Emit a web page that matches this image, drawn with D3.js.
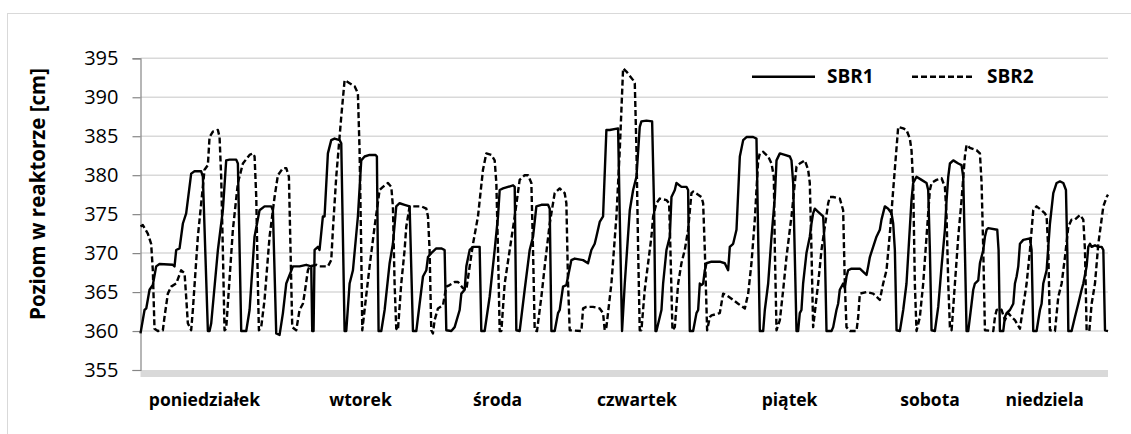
<!DOCTYPE html>
<html>
<head>
<meta charset="utf-8">
<script src="https://cdn.jsdelivr.net/npm/d3@7"></script>
<style>
  body { margin: 0; background: #fff; }
  text { font-family: "Open Sans", sans-serif; fill: #000; }
</style>
</head>
<body>
<div id="chart"></div>
<script>
// time in hours from Monday 00:00, level in cm
var sbr1Hours = [0,0.7,1.0,1.57,2.14,2.72,3.3,5.62,5.91,6.2,6.78,7.36,7.93,8.8,9.38,10.54,10.83,11.7,11.99,12.28,13.44,14.3,14.88,15.46,16.62,16.91,17.49,18.36,18.94,19.8,20.67,21.54,22.7,22.99,23.57,24.15,24.73,25.31,26.47,27.62,28.78,29.65,29.82,30.05,30.23,30.81,31.09,31.67,31.96,32.54,33.12,33.7,34.57,34.86,35.44,35.73,36.31,36.89,37.75,38.33,38.91,39.78,40.82,41.05,41.34,41.81,42.39,43.26,43.83,44.41,44.99,45.86,46.73,47.31,47.89,48.47,49.05,49.63,49.92,50.49,51.36,52.23,52.81,53.1,53.97,54.55,55.42,55.71,56.29,56.58,57.16,57.74,58.89,59.18,59.76,60.63,61.5,62.08,62.37,62.95,64.69,64.98,65.26,65.84,66.71,67.58,68.16,68.74,69.61,70.77,71.06,71.35,71.92,72.5,72.79,73.37,73.95,74.24,74.82,75.4,76.85,77.71,78.29,78.87,79.16,79.74,80.32,80.9,81.48,82.93,83.22,83.62,84.09,84.96,85.54,86.12,86.69,86.98,87.85,88.84,89.19,89.42,89.59,90.17,90.46,90.75,91.33,91.91,92.2,92.78,93.06,93.93,94.8,95.09,95.38,95.96,96.54,96.83,97.12,97.41,97.7,97.99,98.28,99.15,100.59,101.46,102.04,102.33,102.91,103.2,103.49,104.07,104.65,105.23,106.38,106.96,107.54,108.12,108.41,108.99,109.57,110.15,110.44,111.02,111.88,112.75,113.04,113.33,113.91,114.19,114.48,114.77,115.06,115.64,116.22,116.51,116.8,117.09,117.67,118.25,118.54,118.83,119.12,119.99,120.28,120.85,121.14,121.43,122.01,122.3,122.59,122.88,123.46,124.91,125.78,126.07,126.36,126.65,127.22,127.8,128.38,128.67,129.25,129.83,130.41,130.7,130.99,131.28,131.86,132.44,133.01,133.88,134.17,134.75,135.62,136.49,136.78,137.07,137.36,137.94,138.52,139.1,139.68,139.97,140.26,140.55,141.13,142.0,142.57,142.86,143.15,143.44,143.73,144.31,144.6,144.89,145.47,145.76,146.34,146.63,146.92,147.21,148.77,149.0,149.23,149.81,150.1,150.39,150.97,151.55,151.84,152.13,152.42,152.71,153.29,154.45,154.73,155.02,155.6,156.18,156.47,156.76,157.34,157.92,158.5,159.08,159.66,160.24,160.7,160.93,161.11,161.68,162.26,162.84,163.42,163.71,164.29,164.58,164.87,165.16,165.74,166.32,166.9,167.19,167.48,168];
var sbr1Level = [359.7,362.7,362.9,365.3,365.9,368.3,368.6,368.5,368.3,370.4,370.6,373.8,375.1,380.2,380.5,380.5,379.8,360,360,361,370.4,375.5,381.9,382,382,381.5,360,360,362.7,372.1,375.5,376,376,375.5,359.7,359.5,362.3,366.1,368.3,368.3,368.5,368.3,360,360,370.4,370.8,370.4,374.7,374.7,382.8,384.5,384.7,384.5,384.1,360,360,366.1,367.8,374.7,381.9,382.4,382.6,382.6,382.4,360,360,362.7,368.7,371.2,376,376.4,376.2,376,360,360,363.5,367,367.8,369.5,370,370.6,370.6,370.4,360.1,360,360.5,362.7,364.8,365.3,368.3,370.4,370.8,370.8,360,360,364.4,370.4,374.7,378.1,378.3,378.7,378.5,360.1,360,365.3,370.4,372.1,376,376.2,376.2,375.7,360,360,362.3,362.7,365.7,365.9,367,369.1,369.3,369.1,368.7,370.4,371.2,372.1,374,374.7,385.8,385.8,386,374.7,360,366.1,375.5,378.1,379.8,386.2,386.9,387,386.9,375.5,360,360,361.8,362.7,366.1,370.4,372.1,377.2,378.1,379,378.5,378.5,378.1,360,360,362.3,362.7,366.1,365.9,366.1,367.8,368.7,368.9,368.9,368.7,367.8,370.8,371.2,372.1,373,382.4,384.5,384.9,384.9,384.7,360,360,362.7,366.1,372.1,377.2,381.9,382.8,382.6,382.4,381.9,379,360,360,362.3,362.7,366.1,370,372.1,373.8,375.1,375.7,375.3,374.9,374.7,370.4,360,360,360.5,362.7,363.5,365.3,366.1,365.5,367,367.8,368,368,367.4,367.2,368.3,369.5,370.8,372.1,373,374.3,376,375.7,375.1,373.8,370.4,360.1,360,362.7,366.1,376.8,379,379.8,379.4,379,378.1,370.4,360.1,360,363.1,368.3,373,376.8,379.8,381.5,381.9,381.5,381.3,379.8,370.4,360,360,363.5,365.3,366.1,366.5,368.7,370.4,372.1,373,373.2,373,370.4,360,360,361.8,362.3,362.7,363.5,366.1,367,368.3,371.2,371.7,371.9,370.4,360,360,362.7,363.5,366.1,367.8,373.8,377.7,379,379.2,379,378.1,370.4,360,360,361.8,363.5,365.3,366.1,368.3,370.8,371.2,370.8,371,370.8,370.8,370.4,360.1,360];

var sbr2Hours = [0,0.41,1.27,1.85,2.14,2.43,3.01,3.88,4.17,4.75,5.33,6.2,7.07,7.65,7.93,8.22,8.8,9.09,9.96,10.54,11.12,11.7,11.99,12.57,13.44,13.73,14.01,14.3,14.59,14.88,15.17,16.04,16.91,17.78,18.94,19.52,19.81,20.1,20.38,20.56,20.96,21.54,22.41,23.28,23.86,24.73,25.31,25.77,26.0,26.35,27.04,27.62,28.2,28.49,29.07,29.36,30.52,31.09,32.54,33.12,33.41,33.99,34.86,35.44,36.31,37.18,37.75,38.04,38.33,38.51,38.91,39.78,40.65,41.52,42.1,42.97,43.55,43.83,44.12,44.41,44.7,45.28,45.86,46.15,46.73,47.6,48.76,49.63,49.92,50.2,50.49,50.78,51.07,51.65,52.52,53.1,53.68,54.55,55.13,56.0,56.58,57.16,57.74,58.6,59.47,60.05,60.92,61.5,61.79,62.08,62.37,62.66,63.24,64.11,64.98,65.84,66.71,67.3,67.87,68.16,68.45,68.85,69.61,70.19,71.06,71.92,72.79,73.66,73.95,74.24,74.53,76.56,76.85,77.43,78.58,79.74,80.32,80.61,80.9,81.77,82.64,83.22,83.8,84.38,85.54,85.83,86.12,86.41,86.69,86.98,87.56,88.14,88.72,89.01,89.59,90.17,91.33,91.79,92.02,92.37,92.78,93.36,93.93,94.51,95.09,95.67,95.96,96.83,97.41,97.7,97.99,98.39,98.86,99.15,100.59,101.17,101.75,102.91,103.78,104.94,105.52,106.09,106.67,107.25,107.54,108.12,108.99,109.57,109.97,110.15,110.44,111.02,111.6,112.17,112.75,113.04,113.62,113.91,114.48,115.35,115.93,116.22,116.51,116.8,117.67,118.25,118.83,119.41,119.7,120.28,121.43,122.01,122.3,122.59,123.17,124.33,124.62,124.91,126.07,127.22,128.38,128.96,129.54,130.12,130.7,131.57,132.44,133.01,133.59,133.88,134.17,134.46,134.75,135.33,135.91,136.49,137.07,137.36,138.23,139.1,139.68,139.97,140.26,140.55,140.84,141.42,142.0,142.57,143.15,143.44,144.02,145.18,145.76,146.05,146.34,146.63,148.08,148.37,148.66,149.23,149.52,150.1,150.68,151.26,151.84,152.71,153.0,153.87,154.45,155.02,155.6,156.47,157.05,157.34,157.63,157.92,158.79,159.37,159.95,160.53,161.11,161.68,162.26,163.13,163.71,164.0,164.29,164.75,165.16,165.74,166.32,167.19,167.77,168];
var sbr2Level = [373.4,373.6,372.5,371.2,367.8,360.3,360,360.1,361.8,364.8,365.7,366.1,367.8,367.4,364.4,361,360.1,362.7,372.1,376.4,380.7,381.3,384.9,385.6,385.8,384.9,379.8,370.4,360.1,360.3,363.5,373,379,381.5,382.6,382.8,382.4,377.2,366.1,360.1,360.5,364,372.1,377.2,380,380.9,380.9,379.8,372.1,360.5,360.1,362.7,363.5,364.8,367.8,368.3,368.5,368.3,368.3,369.1,373,379.8,387.5,392.2,391.8,391.4,390.5,383.2,370.4,360.1,362.7,368.3,373.4,378.1,378.5,379,378.5,376,366.1,360.3,360.1,366.1,370.4,373.4,376,376,376,375.7,374.7,370.4,360.1,359.7,361.4,362.9,363.3,365.7,365.9,366.3,366.3,365.5,365.3,368.3,371.2,374.7,380.7,382.8,382.6,381.9,379,370.4,360,360,366.1,370.4,374.7,379.4,380,380,379,370.4,360.1,360,364.4,368.3,373.8,377.7,378.3,377.7,376.4,366.1,360.1,360,362.9,363.1,363.1,362.9,362.3,360.1,360.5,366.1,374.7,383.2,393.7,393.3,392.2,391.8,383.2,370.4,360.1,360.1,365.3,368.7,372.1,374.7,376.4,377,376.8,376.4,370.4,360.1,360.5,366.1,368.7,370.4,373,377.7,377.9,377.5,377.2,376.4,370.4,360.1,361.8,362,362.3,364.8,364.6,364,363.5,362.9,364.8,368.7,374.3,381.9,382.8,383,382.4,381.5,379.8,370.4,360.1,361.4,365.3,369.5,373,374.7,379,381.1,381.5,381.9,380.7,379,370.4,360.5,366.1,370.4,373.4,376.4,377.2,377.2,377,375.5,366.1,360.5,360,360,361.8,364.8,365,364.8,364,366.1,367.8,372.5,378.1,386.2,386,385.8,384.7,383.2,379,366.1,360,361.8,366.1,372.1,378.1,379,379.4,379.6,378.5,374.7,366.1,360.5,360.1,366.1,372.1,376.8,382.4,383.9,383.5,383.2,382.8,379,370.4,360.1,360,361.8,362.7,362.9,362.7,361.4,362.3,361.8,361.4,360.3,361.8,366.1,370.4,375.5,376,375.5,375.1,374.7,370.4,360.1,360,364.4,366.1,369.5,373.4,374.3,374.3,374.9,374.3,370.4,360.1,360,363.5,366.1,371.2,376,377.2,377.5];

var yTicks = [355, 360, 365, 370, 375, 380, 385, 390, 395];
var dayNames = ["poniedziałek", "wtorek", "środa", "czwartek", "piątek", "sobota", "niedziela"];
var dayHours = [11.1, 38.2, 62.0, 86.2, 112.7, 137.1, 157.0];
var seriesNames = ["SBR1", "SBR2"];

var W = 1131, H = 434;
var plotLeft = 140.5, plotRight = 1108, plotTop = 58.3, plotBottom = 370;

var svg = d3.select("#chart").append("svg")
  .attr("width", W)
  .attr("height", H);

svg.append("rect")
  .attr("width", W).attr("height", H)
  .attr("fill", "#fff");

// outer frame (right/bottom edges fall outside the picture)
svg.append("rect")
  .attr("x", 7.5).attr("y", 13.5)
  .attr("width", W + 20).attr("height", H + 20)
  .attr("fill", "none")
  .attr("stroke", "#d9d9d9")
  .attr("stroke-width", 1);

var x = d3.scaleLinear().domain([0, 168]).range([plotLeft, plotRight]);
var y = d3.scaleLinear().domain([355, 395]).range([plotBottom, plotTop]);

// gridlines
svg.append("g")
  .selectAll("line")
  .data(yTicks.filter(function(d) { return d > 355; }))
  .enter().append("line")
  .attr("x1", plotLeft).attr("x2", plotRight)
  .attr("y1", function(d) { return y(d); })
  .attr("y2", function(d) { return y(d); })
  .attr("stroke", "#d9d9d9")
  .attr("stroke-width", 1.5);

// bottom axis band
svg.append("rect")
  .attr("x", plotLeft).attr("y", y(355))
  .attr("width", plotRight - plotLeft).attr("height", 7)
  .attr("fill", "#d9d9d9");

// y axis
var yAxis = svg.append("g")
  .attr("transform", "translate(" + plotLeft + ",0)")
  .call(d3.axisLeft(y).tickValues(yTicks).tickSize(8).tickPadding(14));
yAxis.select(".domain").attr("stroke", "#868686").attr("stroke-width", 1.2);
yAxis.selectAll(".tick line").attr("stroke", "#868686").attr("stroke-width", 1.2);
yAxis.selectAll(".tick text")
  .style("font-family", "'Open Sans', sans-serif")
  .style("font-size", "20px")
  .attr("fill", "#000");

svg.append("text")
  .attr("transform", "translate(45,194) rotate(-90)")
  .attr("text-anchor", "middle")
  .style("font-size", "20.5px")
  .style("font-weight", "bold")
  .text("Poziom w reaktorze [cm]");

// day labels
svg.append("g")
  .selectAll("text")
  .data(dayNames)
  .enter().append("text")
  .attr("x", function(d, i) { return x(dayHours[i]); })
  .attr("y", 405.5)
  .attr("text-anchor", "middle")
  .style("font-size", "17.5px")
  .style("font-weight", "bold")
  .text(function(d) { return d; });

// lines
function makeLine(hours, levels) {
  return d3.line()
    .x(function(d, i) { return x(hours[i]); })
    .y(function(d) { return y(d); })(levels);
}

svg.append("path")
  .attr("d", makeLine(sbr2Hours, sbr2Level))
  .attr("fill", "none")
  .attr("stroke", "#000")
  .attr("stroke-width", 2.4)
  .attr("stroke-dasharray", "6,3")
  .attr("stroke-linejoin", "round");

svg.append("path")
  .attr("d", makeLine(sbr1Hours, sbr1Level))
  .attr("fill", "none")
  .attr("stroke", "#000")
  .attr("stroke-width", 2.4)
  .attr("stroke-linejoin", "round");

// legend
var legend = svg.append("g");
var legX = [752, 912];
legend.selectAll("line")
  .data(seriesNames)
  .enter().append("line")
  .attr("x1", function(d, i) { return legX[i]; })
  .attr("x2", function(d, i) { return legX[i] + 63; })
  .attr("y1", 76.7).attr("y2", 76.7)
  .attr("stroke", "#000")
  .attr("stroke-width", 2.6)
  .attr("stroke-dasharray", function(d, i) { return i ? "6,3" : null; });
legend.selectAll("text")
  .data(seriesNames)
  .enter().append("text")
  .attr("x", function(d, i) { return legX[i] + 75; })
  .attr("y", 83.3)
  .style("font-size", "19px")
  .style("font-weight", "bold")
  .text(function(d) { return d; });
</script>
</body>
</html>
